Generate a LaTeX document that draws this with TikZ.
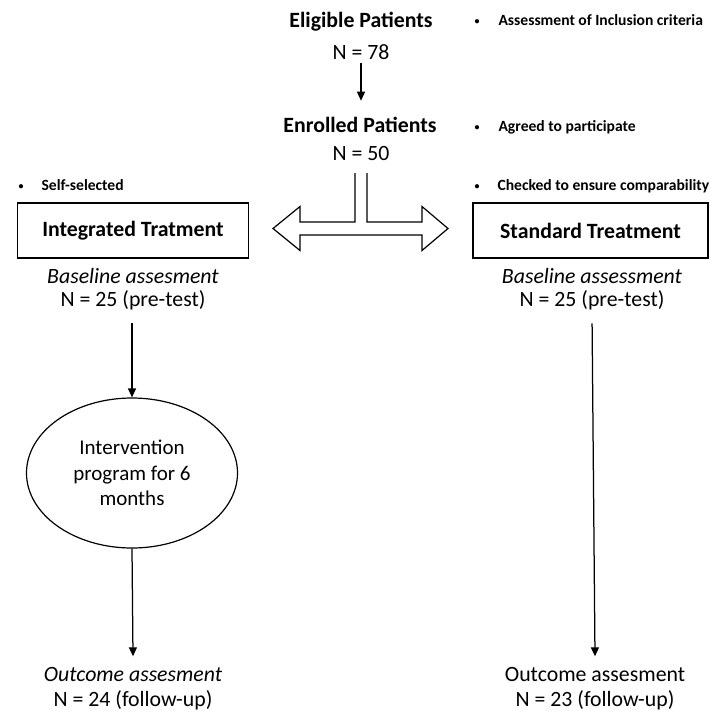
\documentclass[tikz,border=0pt]{standalone}
\usepackage{fontspec}
\setmainfont{Carlito}
\usepackage{tikz}
\usetikzlibrary{shapes,arrows.meta,positioning,calc}

\newcommand{\dotmark}{{\fontsize{10}{10}\selectfont\raisebox{1pt}{•}}}

\begin{document}
\begin{tikzpicture}[x=1pt,y=-1pt,
    title/.style={font=\fontsize{21.8}{26}\selectfont\bfseries},
    count/.style={font=\fontsize{21.8}{26}\selectfont},
    note/.style={anchor=west,font=\fontsize{15.6}{18}\selectfont\bfseries},
    group/.style={draw,line width=1.2pt,minimum height=55pt,title},
    flow/.style={-{Triangle[length=9pt,width=8pt]},line width=1.25pt}]
\useasboundingbox (0,0) rectangle (715,713);

%Define split arrow parameters
\def\gap{6}       %half gap between the two stems.
\def\shaft{6.5}   %half height of the shaft.
\def\head{22}     %half height of the heads.

% Top of the flow.
    \node[title] (eligible) at (361,22) {Eligible Patients};
    \node[count] (n78) at (361,52) {N = 78};
    \node[title] (enrolled) at (360,125) {Enrolled Patients};
    \node[count] (n50) at (361,153) {N = 50};

% Notes on the side.
    \node[note] (incl) at (471,20) {\makebox[24pt][l]{\dotmark}Assessment of Inclusion criteria};
    \node[note] (agreed) at (471,127) {\makebox[24pt][l]{\dotmark}Agreed to participate};
    \node[note] (checked) at (471,186) {\makebox[23pt][l]{\dotmark}Checked to ensure comparability};
    \node[note] (self) at (15,185) {\makebox[23pt][l]{\dotmark}Self-selected};

% The two groups.
    \node[group,minimum width=231pt] (integ) at (133,230.5) {Integrated Tratment};
    \node[group,minimum width=235pt] (standard) at (590.5,230.5) {Standard Treatment};

    \node[count,font=\fontsize{21.8}{26}\selectfont\itshape] (base1) at (133,276.5) {Baseline assesment};
    \node[count] (pre1) at (133,300) {N = 25 (pre-test)};
    \node[count,font=\fontsize{21.8}{26}\selectfont\itshape] (base2) at (592,276.5) {Baseline assessment};
    \node[count] (pre2) at (592,300) {N = 25 (pre-test)};

    \node[draw,ellipse,line width=1.2pt,minimum width=211pt,minimum height=150pt,
          align=center,font=\fontsize{21}{25.5}\selectfont] (prog) at (132,473)
          {Intervention\\program for 6\\months};

% Outcome.
    \node[count,font=\fontsize{21.8}{26}\selectfont\itshape] (out1) at (133,674) {Outcome assesment};
    \node[count] (fu1) at (133,700) {N = 24 (follow-up)};
    \node[count] (out2) at (595,674) {Outcome assesment};
    \node[count] (fu2) at (595,700) {N = 23 (follow-up)};

% Connectors.
    \draw[flow] (n78.south) -- ($(n78.south |- enrolled.north)+(0,-13)$);
    \draw[flow,shorten <=10pt] (pre1.south -| prog.north) -- (prog.north);
    \draw[flow] (prog.south) -- ($(out1.north)+(0,-7)$);
    \draw[flow,shorten <=10pt] (pre2.south) -- ($(out2.north)+(0,-7)$);

% Split arrow from the enrolled patients to both groups.
    \coordinate (split) at (361,228.5);
    \draw[line width=1.2pt,line join=miter]
        ($(split)+(-\gap,-55.5)$) -- ($(split)+(-\gap,-\shaft)$)
        -- ($(split)+(-61,-\shaft)$) -- ($(split)+(-61,-\head)$)
        -- ($(split)+(-88,0)$)
        -- ($(split)+(-61,\head)$) -- ($(split)+(-61,\shaft)$)
        -- ($(split)+(61,\shaft)$) -- ($(split)+(61,\head)$)
        -- ($(split)+(87,0)$)
        -- ($(split)+(61,-\head)$) -- ($(split)+(61,-\shaft)$)
        -- ($(split)+(\gap,-\shaft)$) -- ($(split)+(\gap,-55.5)$);

\end{tikzpicture}
\end{document}
